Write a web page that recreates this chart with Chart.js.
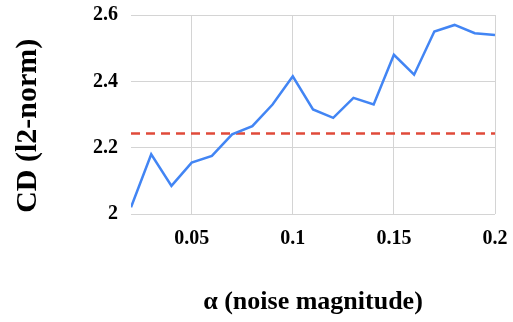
<!DOCTYPE html>
<html>
<head>
<meta charset="utf-8">
<script src="https://cdn.jsdelivr.net/npm/chart.js@4/dist/chart.umd.min.js"></script>
<style>
  html, body { margin: 0; padding: 0; background: #fff; }
  #wrap { width: 513px; height: 322px; }
</style>
</head>
<body>
<div id="wrap"><canvas id="cdChart"></canvas></div>
<script>
// noise magnitude (alpha) and CD values
var alphas = [0.02, 0.03, 0.04, 0.05, 0.06, 0.07, 0.08, 0.09, 0.10, 0.11,
              0.12, 0.13, 0.14, 0.15, 0.16, 0.17, 0.18, 0.19, 0.20];
var cdValues = [2.02, 2.18, 2.085, 2.155, 2.175, 2.24, 2.265, 2.33, 2.415, 2.315,
                2.29, 2.35, 2.33, 2.48, 2.42, 2.55, 2.57, 2.545, 2.54];
var baseline = 2.243;
var xTicks = [0.05, 0.1, 0.15, 0.2];
var yTicks = [2, 2.2, 2.4, 2.6];

var serif = "'Liberation Serif', 'Times New Roman', serif";

var chart = document.getElementById("cdChart");

if (chart) {

    new Chart(chart, {

        type: "line",

        data: {

            datasets: [{
                label: "CD",
                data: alphas.map(function (a, i) { return { x: a, y: cdValues[i] }; }),
                borderColor: "#4285f4",
                borderWidth: 2.5,
                pointRadius: 0,
                tension: 0
            }, {
                label: "baseline",
                data: [
                    { x: alphas[0], y: baseline },
                    { x: alphas[alphas.length - 1], y: baseline }
                ],
                borderColor: "#e04a3a",
                borderWidth: 2.5,
                borderDash: [9, 6],
                pointRadius: 0
            }]

        },

        options: {

            responsive: true,
            maintainAspectRatio: false,
            animation: false,
            layout: { padding: { top: 15, right: 18, bottom: 0, left: 0 } },
            plugins: {
                legend: { display: false },
                tooltip: { enabled: false }
            },

            scales: {

                x: {
                    type: "linear",
                    min: 0.02,
                    max: 0.2,
                    afterBuildTicks: function (scale) {
                        scale.ticks = xTicks.map(function (v) { return { value: v }; });
                    },
                    afterFit: function (scale) {
                        scale.height = 108;
                        scale.paddingLeft = 0;
                        scale.paddingRight = 0;
                    },
                    grid: { color: "#d4d4d4", lineWidth: 1, drawTicks: false },
                    border: { display: false },
                    ticks: {
                        padding: 13,
                        color: "#000",
                        font: { family: serif, size: 20, weight: "bold" },
                        callback: function (v) { return String(Math.round(v * 100) / 100); }
                    },
                    title: {
                        display: true,
                        text: "α (noise magnitude)",
                        color: "#000",
                        font: { family: serif, size: 26, weight: "bold" },
                        padding: { top: 0, bottom: 4 }
                    }
                },

                y: {
                    min: 2,
                    max: 2.6,
                    afterBuildTicks: function (scale) {
                        scale.ticks = yTicks.map(function (v) { return { value: v }; });
                    },
                    afterFit: function (scale) {
                        scale.width = 131;
                        scale.paddingTop = 0;
                        scale.paddingBottom = 0;
                    },
                    grid: { color: "#d4d4d4", lineWidth: 1, drawTicks: false },
                    border: { display: false },
                    ticks: {
                        padding: 13,
                        color: "#000",
                        font: { family: serif, size: 20, weight: "bold" },
                        callback: function (v) { return String(Math.round(v * 10) / 10); }
                    },
                    title: {
                        display: true,
                        // trailing spaces nudge the title down like the original
                        text: "CD (l2-norm)   ",
                        color: "#000",
                        font: { family: serif, size: 30, weight: "bold" },
                        padding: { top: 10, bottom: 0 }
                    }
                }

            }

        }

    });

}
</script>
</body>
</html>
